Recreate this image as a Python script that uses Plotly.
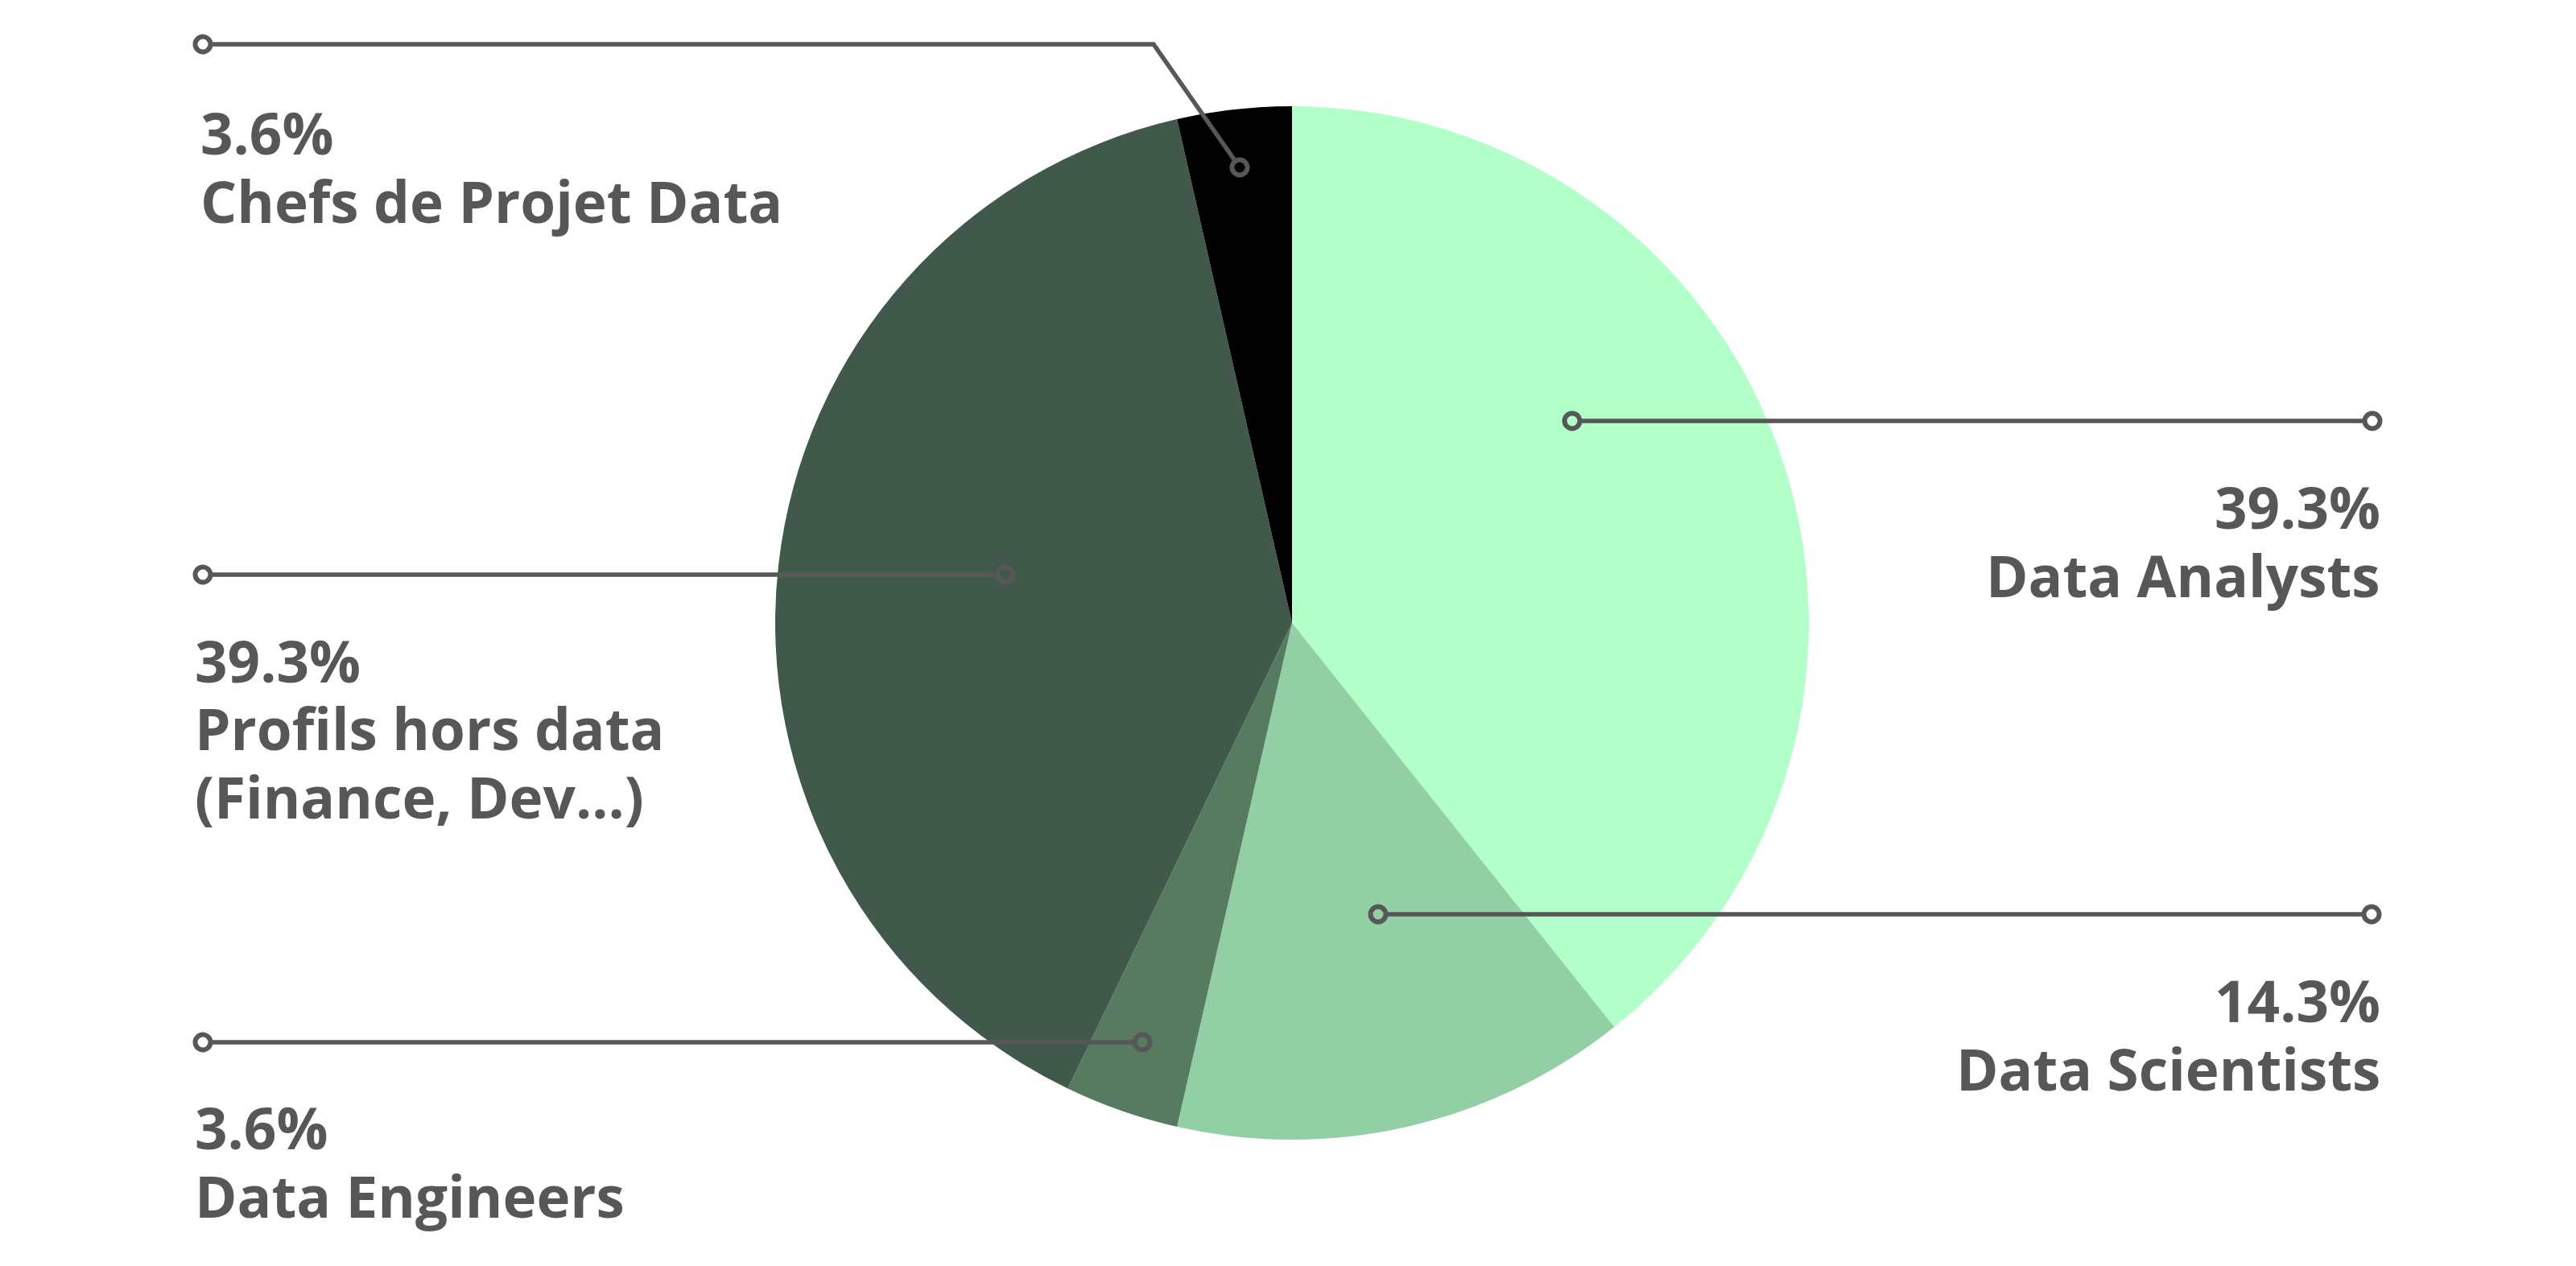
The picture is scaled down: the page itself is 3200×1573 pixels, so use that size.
import plotly.graph_objects as go

# ---------------- data ----------------
categories = ["Data Analysts", "Data Scientists", "Data Engineers",
              "Profils hors data (Finance, Dev...)", "Chefs de Projet Data"]
counts = [11, 4, 1, 11, 1]
name_lines = [["Data Analysts"], ["Data Scientists"], ["Data Engineers"],
              ["Profils hors data", "(Finance, Dev...)"], ["Chefs de Projet Data"]]
colors = ["#b3ffc9", "#92cfa5", "#567b61", "#41594a", "#000000"]

total = sum(counts)
percent_labels = [f"{100 * c / total:.1f}%" for c in counts]

# ---------------- layout (pixels, screenshot coordinates) ----------------
W, H = 3200, 1573
OFF = 8            # page body margin offset
CX, CY, R = 1605, 774, 642
TEXT_COLOR = "#575757"
FS = 71

# leader polylines: first point = circle inside slice, last = outer circle
leaders = [
    [(1953, 523), (2947, 523)],
    [(1712, 1136), (2946, 1136)],
    [(1419, 1295), (252, 1295)],
    [(1249, 714), (252, 714)],
    [(1540, 208), (1433, 55), (252, 55)],
]
text_x = [2958, 2958, 241, 241, 248]
text_anchor = ["right", "right", "left", "left", "left"]
baselines = [[657, 742], [1270, 1355], [1428, 1513], [848, 932, 1017], [192, 277]]

def px(x):
    return (x - OFF) / W

def py(y):
    return 1 - (y - OFF) / H

fig = go.Figure()
fig.add_trace(go.Pie(
    labels=categories, values=counts, sort=False, direction="clockwise", rotation=0,
    marker=dict(colors=colors, line=dict(width=0)),
    textinfo="none", showlegend=False, hoverinfo="label+percent",
    domain=dict(x=[px(CX - R), px(CX + R)], y=[py(CY + R), py(CY - R)]),
))

shapes = []
annotations = []
CR = 9.5     # circle radius (px)
LW = 5.5     # line width


def trim(p, q):
    dx, dy = q[0] - p[0], q[1] - p[1]
    d = (dx * dx + dy * dy) ** 0.5
    return (p[0] + dx / d * CR, p[1] + dy / d * CR)


for i, pts in enumerate(leaders):
    p_start = trim(pts[0], pts[1])
    p_end = trim(pts[-1], pts[-2])
    seq = [p_start] + pts[1:-1] + [p_end]
    path = "M " + " L ".join(f"{px(x):.6f},{py(y):.6f}" for x, y in seq)
    shapes.append(dict(type="path", path=path, xref="paper", yref="paper",
                       line=dict(color=TEXT_COLOR, width=LW), layer="above"))
    for (x, y) in (pts[0], pts[-1]):
        shapes.append(dict(type="circle", xref="paper", yref="paper",
                           x0=px(x - CR), x1=px(x + CR), y0=py(y + CR), y1=py(y - CR),
                           line=dict(color=TEXT_COLOR, width=6), fillcolor="rgba(0,0,0,0)",
                           layer="above"))
    lines = [percent_labels[i]] + name_lines[i]
    for txt, base in zip(lines, baselines[i]):
        annotations.append(dict(
            text=txt, x=px(text_x[i]), y=py(base - 0.388 * FS), xref="paper", yref="paper",
            xanchor=text_anchor[i], yanchor="middle", showarrow=False, borderpad=0,
            font=dict(family="Open Sans", size=FS, color=TEXT_COLOR, weight=700),
        ))

fig.update_layout(
    width=W, height=H, margin=dict(l=0, r=0, t=0, b=0),
    paper_bgcolor="white", plot_bgcolor="white",
    shapes=shapes, annotations=annotations, showlegend=False,
)
fig.write_html("out.html")
